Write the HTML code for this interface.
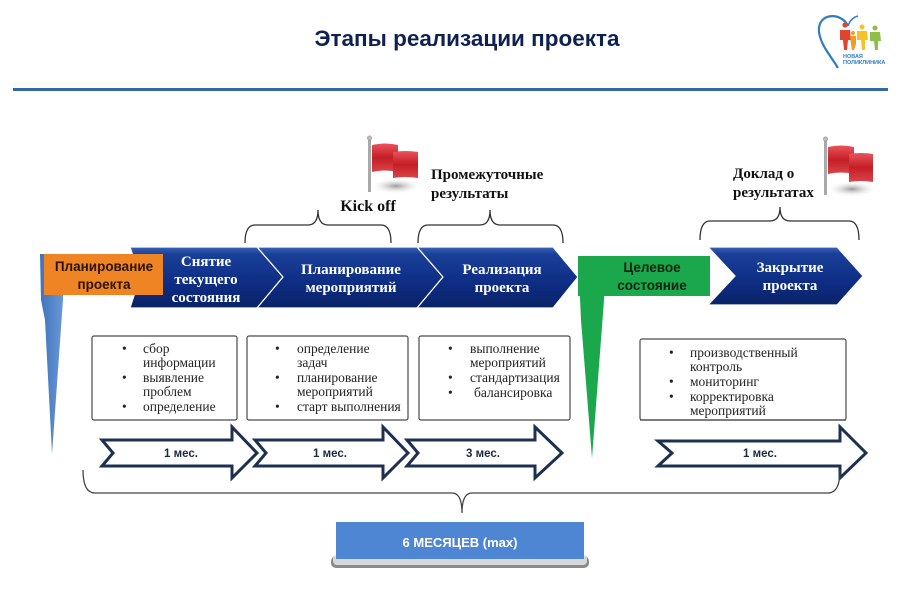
<!DOCTYPE html>
<html><head><meta charset="utf-8">
<style>
html,body{margin:0;padding:0;background:#fff;}
svg{display:block;}
.ser{font-family:"Liberation Serif","DejaVu Serif",serif;}
.san{font-family:"Liberation Sans","DejaVu Sans",sans-serif;}
</style></head>
<body>
<svg width="900" height="600" viewBox="0 0 900 600" xmlns="http://www.w3.org/2000/svg">
<defs>
  <linearGradient id="chev" x1="0" y1="0" x2="0" y2="1">
    <stop offset="0" stop-color="#3a63b8"/>
    <stop offset="0.12" stop-color="#1a3f98"/>
    <stop offset="0.6" stop-color="#0e2d84"/>
    <stop offset="1" stop-color="#0a2366"/>
  </linearGradient>
  <linearGradient id="bwedge" x1="0" y1="0" x2="1" y2="0">
    <stop offset="0" stop-color="#3d72bd"/>
    <stop offset="1" stop-color="#6d9ad6"/>
  </linearGradient>
  <linearGradient id="flagg" x1="0" y1="0" x2="0" y2="1">
    <stop offset="0" stop-color="#e8545a"/>
    <stop offset="0.5" stop-color="#c41e26"/>
    <stop offset="1" stop-color="#d9454b"/>
  </linearGradient>
  <radialGradient id="shad" cx="0.5" cy="0.5" r="0.5">
    <stop offset="0" stop-color="#9a9a9a"/>
    <stop offset="1" stop-color="#ffffff" stop-opacity="0"/>
  </radialGradient>
</defs>

<!-- Title -->
<text x="467" y="46" text-anchor="middle" class="san" font-size="22.5" font-weight="bold" fill="#0f2152">Этапы реализации проекта</text>

<!-- Logo -->
<g>
  <path d="M848,26 C842,12 817,12 819,32 C821,46 831,56 838,68" fill="none" stroke="#2f7cc4" stroke-width="2.2"/>
  <path d="M848,26 C850,20 854,17 858,16" fill="none" stroke="#2f7cc4" stroke-width="1.5"/>
  <circle cx="845" cy="25" r="2.6" fill="#e0442e"/>
  <path d="M840,30 L850,30 L851,40 L848,40 L847,50 L844,50 L843,40 L840,40 Z" fill="#e0442e"/>
  <circle cx="853" cy="33" r="2" fill="#f39a2a"/>
  <path d="M850,36 L856,36 L856,44 L854,50 L852,50 L851,44 Z" fill="#f39a2a"/>
  <circle cx="862" cy="27" r="2.5" fill="#f5c326"/>
  <path d="M857,31 L867,31 L868,40 L865,40 L865,50 L862,50 L861,40 L857,40 Z" fill="#f5c326"/>
  <circle cx="875" cy="28" r="2.5" fill="#8cc04a"/>
  <path d="M870,32 L880,32 L881,41 L878,41 L878,50 L875,50 L874,41 L870,41 Z" fill="#8cc04a"/>
  <text x="843" y="58" class="san" font-size="5.5" font-weight="bold" fill="#2f7cc4">НОВАЯ</text>
  <text x="843" y="64" class="san" font-size="5.5" font-weight="bold" fill="#2f7cc4">ПОЛИКЛИНИКА</text>
</g>

<!-- Blue rule -->
<rect x="13" y="82" width="875" height="6" fill="#fbfbf0"/>
<rect x="13" y="88" width="875" height="3" fill="#3368a8"/>

<!-- Flags -->
<g>
  <ellipse cx="396" cy="186" rx="26" ry="8" fill="url(#shad)"/>
  <rect x="368" y="139" width="3" height="53" fill="#a9a9a9"/>
  <circle cx="369.5" cy="138" r="2.2" fill="#bdbdbd" stroke="#888" stroke-width="0.5"/>
  <path d="M372,145 Q385,142 398,145 L398,172 Q385,169 372,172 Z" fill="url(#flagg)"/>
  <path d="M393,152 Q405,150 418,152 L418,178 Q405,176 393,178 Z" fill="url(#flagg)"/>
</g>
<g>
  <ellipse cx="852" cy="189" rx="26" ry="8" fill="url(#shad)"/>
  <rect x="824" y="140" width="3" height="55" fill="#a9a9a9"/>
  <circle cx="825.5" cy="139" r="2.2" fill="#bdbdbd" stroke="#888" stroke-width="0.5"/>
  <path d="M828,147 Q841,144 854,147 L854,174 Q841,171 828,174 Z" fill="url(#flagg)"/>
  <path d="M849,154 Q861,152 873,154 L873,182 Q861,180 849,182 Z" fill="url(#flagg)"/>
</g>

<!-- Labels above -->
<text x="368" y="211" text-anchor="middle" class="ser" font-size="16" font-weight="bold" fill="#111">Kick off</text>
<text x="431" y="179" class="ser" font-size="15" font-weight="bold" fill="#111">Промежуточные</text>
<text x="431" y="198" class="ser" font-size="15" font-weight="bold" fill="#111">результаты</text>
<text x="733" y="178" class="ser" font-size="15" font-weight="bold" fill="#111">Доклад о</text>
<text x="733" y="197" class="ser" font-size="15" font-weight="bold" fill="#111">результатах</text>

<!-- Top brackets -->
<g fill="none" stroke="#333" stroke-width="1.3">
  <path d="M245,243 Q245,225 255,225 L308,225 Q318,225 318,210 Q318,225 328,225 L381,225 Q391,225 391,243"/>
  <path d="M418,243 Q418,225 428,225 L480,225 Q490,225 490,210 Q490,225 500,225 L553,225 Q563,225 563,243"/>
  <path d="M700,240 Q700,221 710,221 L770,221 Q780,221 780,207 Q780,221 790,221 L849,221 Q859,221 859,240"/>
</g>

<!-- Left blue wedge -->
<path d="M40,254 L64,254 L63,300 L52,454 L45,320 L41,300 Z" fill="url(#bwedge)"/>
<!-- Green wedge -->
<path d="M578,256 L606,256 L604,300 L592,458 L581,320 Z" fill="#1ba84c"/>

<!-- Chevrons -->
<g stroke="#ffffff" stroke-width="1.2">
  <path d="M130,247 L257,247 L283,277 L257,308 L130,308 L140,277 Z" fill="url(#chev)"/>
  <path d="M257,247 L417,247 L443,277 L417,308 L257,308 L283,277 Z" fill="url(#chev)"/>
  <path d="M417,247 L553,247 L578,277 L553,308 L417,308 L443,277 Z" fill="url(#chev)"/>
  <path d="M708,247 L837,247 L863,276 L837,305 L708,305 L735,276 Z" fill="url(#chev)"/>
</g>
<rect x="578" y="256" width="132" height="40" fill="#1ba84c"/>
<rect x="44" y="254" width="119" height="41" fill="#ef8424"/>

<!-- Chevron labels -->
<g class="ser" font-size="15" font-weight="bold" fill="#ffffff" text-anchor="middle">
  <text x="206" y="266">Снятие</text>
  <text x="206" y="284">текущего</text>
  <text x="206" y="302">состояния</text>
  <text x="351" y="274">Планирование</text>
  <text x="351" y="292">мероприятий</text>
  <text x="502" y="274">Реализация</text>
  <text x="502" y="292">проекта</text>
  <text x="790" y="272">Закрытие</text>
  <text x="790" y="290">проекта</text>
</g>
<g class="san" font-size="13.5" font-weight="bold" text-anchor="middle">
  <text x="104" y="271" fill="#2a1406">Планирование</text>
  <text x="104" y="289" fill="#2a1406">проекта</text>
  <text x="652" y="272" fill="#0b2412">Целевое</text>
  <text x="652" y="290" fill="#0b2412">состояние</text>
</g>

<!-- Boxes -->
<g fill="#ffffff" stroke="#4a4a4a" stroke-width="1.2">
  <rect x="92" y="336" width="145" height="84" rx="2"/>
  <rect x="247" y="336" width="161" height="84" rx="2"/>
  <rect x="419" y="336" width="151" height="84" rx="2"/>
</g>
<g class="ser" font-size="13.5" fill="#222">
  <text x="122" y="353">•</text><text x="143" y="353">сбор</text>
  <text x="143" y="367">информации</text>
  <text x="122" y="382">•</text><text x="143" y="382">выявление</text>
  <text x="143" y="396">проблем</text>
  <text x="122" y="411">•</text><text x="143" y="411">определение</text>

  <text x="275" y="353">•</text><text x="297" y="353">определение</text>
  <text x="297" y="367">задач</text>
  <text x="275" y="382">•</text><text x="297" y="382">планирование</text>
  <text x="297" y="396">мероприятий</text>
  <text x="275" y="411">•</text><text x="297" y="411">старт выполнения</text>

  <text x="448" y="353">•</text><text x="470" y="353">выполнение</text>
  <text x="470" y="367">мероприятий</text>
  <text x="448" y="382">•</text><text x="470" y="382">стандартизация</text>
  <text x="448" y="397">•</text><text x="474" y="397">балансировка</text>
</g>
<rect x="640" y="339" width="206" height="81" rx="2" fill="#ffffff" stroke="#4a4a4a" stroke-width="1.2"/>
<svg x="641" y="340" width="204" height="79" overflow="hidden">
<g class="ser" font-size="13.5" fill="#222">
  <text x="28" y="17">•</text><text x="49" y="17">производственный</text>
  <text x="49" y="31">контроль</text>
  <text x="28" y="46">•</text><text x="49" y="46">мониторинг</text>
  <text x="28" y="61">•</text><text x="49" y="61">корректировка</text>
  <text x="49" y="75">мероприятий</text>
</g>
</svg>
<line x1="640" y1="420" x2="846" y2="420" stroke="#4a4a4a" stroke-width="1.2"/>

<!-- Duration arrows -->
<g fill="#ffffff" stroke="#1d3050" stroke-width="3" stroke-linejoin="miter">
  <path d="M102,440 L232,440 L232,427 L257,453 L232,478 L232,466 L102,466 L113,453 Z"/>
  <path d="M255,440 L383,440 L383,427 L408,453 L383,478 L383,466 L255,466 L266,453 Z"/>
  <path d="M407,440 L535,440 L535,427 L562,453 L535,478 L535,466 L407,466 L418,453 Z"/>
  <path d="M658,441 L840,441 L840,427 L866,453 L840,478 L840,466 L658,466 L672,453 Z"/>
</g>
<g class="san" font-size="11.5" font-weight="bold" fill="#1a2a40" text-anchor="middle">
  <text x="181" y="457">1 мес.</text>
  <text x="330" y="457">1 мес.</text>
  <text x="483" y="457">3 мес.</text>
  <text x="760" y="457">1 мес.</text>
</g>

<!-- Big bottom bracket -->
<path d="M83,470 Q83,493 95,493 L452,493 Q462,493 462,513 Q462,493 472,493 L828,493 Q840,493 840,470" fill="none" stroke="#444" stroke-width="1.3"/>

<!-- 6 months box -->
<rect x="331" y="556" width="258" height="12" rx="5" fill="#8a8a8a"/>
<rect x="333" y="555" width="254" height="10" rx="4" fill="#d8d8d8"/>
<rect x="336" y="522" width="248" height="37" fill="#4f86d4"/>
<text x="460" y="547" text-anchor="middle" class="san" font-size="13" font-weight="bold" fill="#ffffff">6 МЕСЯЦЕВ (max)</text>
</svg>
</body></html>
